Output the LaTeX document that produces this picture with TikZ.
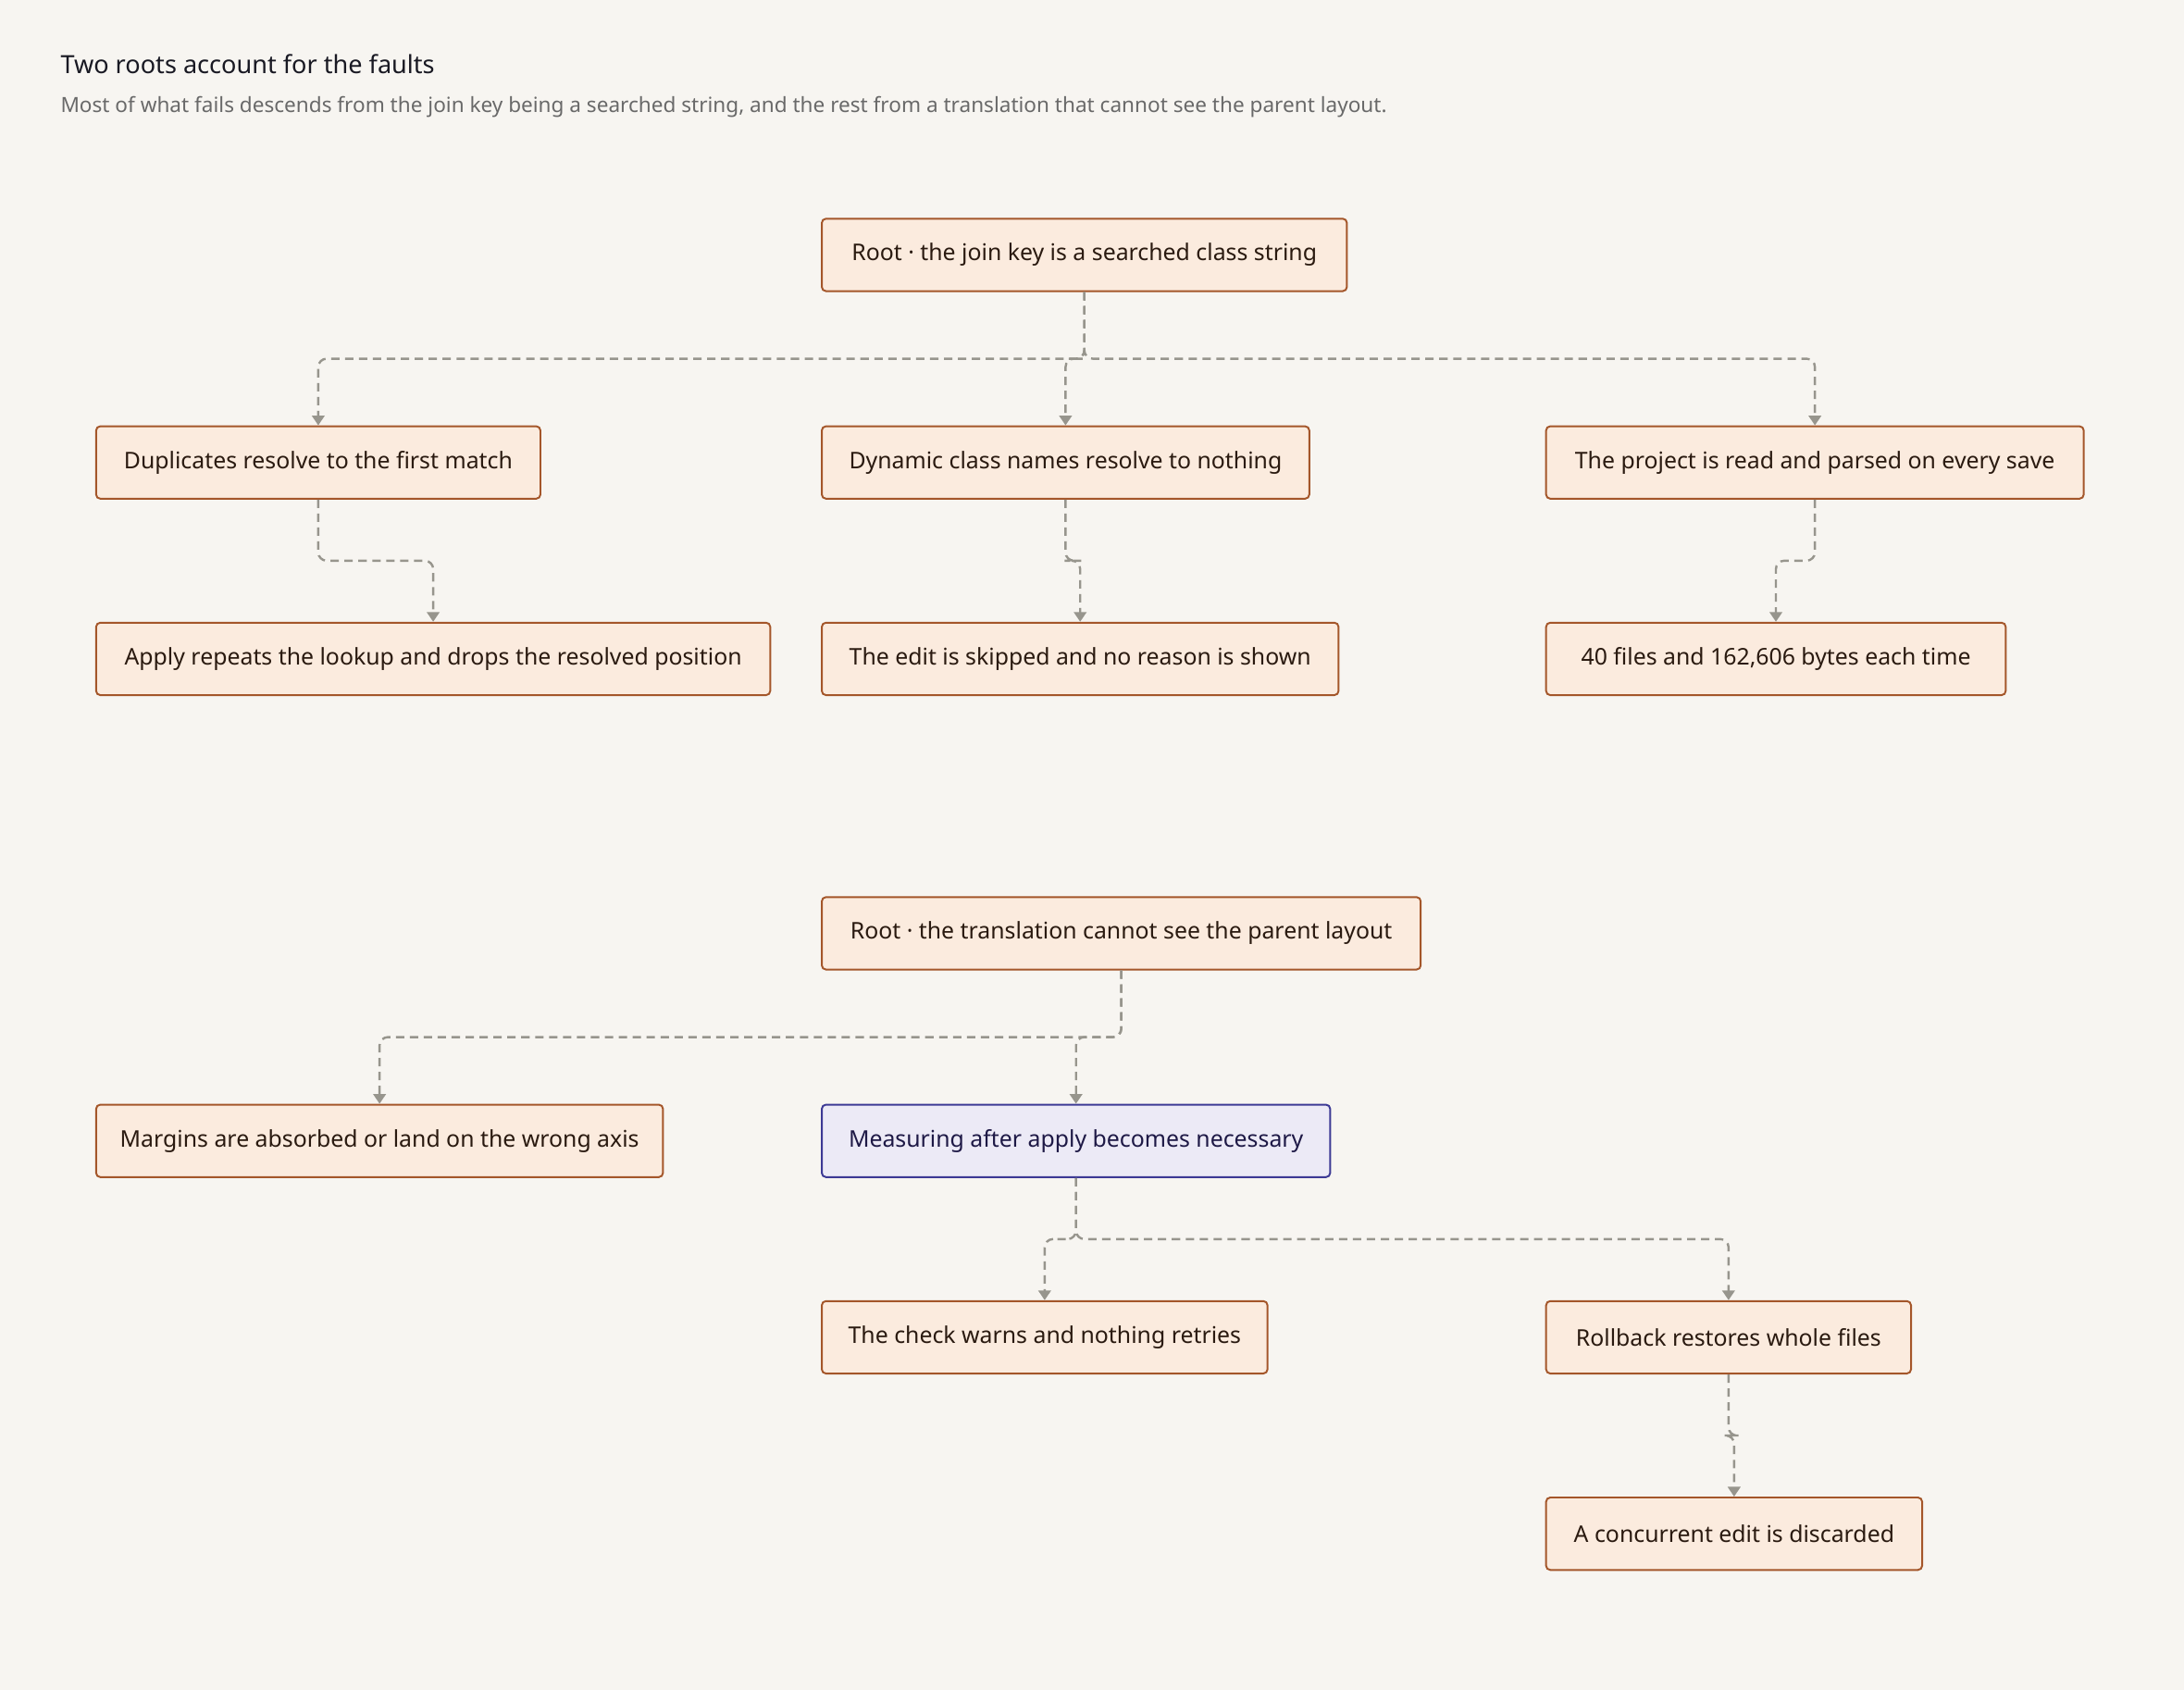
\documentclass[tikz,border=0pt]{standalone}
\usepackage{fontspec}
\setmainfont{Noto Sans}
\usetikzlibrary{arrows.meta,calc}
\definecolor{bg}{HTML}{F7F5F1}
\definecolor{boxfill}{HTML}{FBEBDE}
\definecolor{boxline}{HTML}{A4562A}
\definecolor{bluefill}{HTML}{ECEAF6}
\definecolor{blueline}{HTML}{3D3A95}
\definecolor{conncol}{HTML}{97958D}
\definecolor{txt}{HTML}{2A1A10}
\begin{document}
\begin{tikzpicture}[x=1pt,y=1pt,
  box/.style={draw=boxline,fill=boxfill,line width=1.3pt,rounded corners=3pt,minimum height=52pt,inner sep=0pt,font=\fontsize{16.5}{20}\selectfont,text=txt},
  bbox/.style={box,draw=blueline,fill=bluefill,text={rgb,255:red,30;green,25;blue,70}},
  conn/.style={draw=conncol,line width=1.6pt,dash pattern=on 6pt off 4pt,rounded corners=6pt,-{Triangle[width=9pt,length=7pt]}}]
\fill[bg] (0,0) rectangle (1568,-1213);
\useasboundingbox (0,0) rectangle (1568,-1213);
\node[anchor=base west,font=\fontsize{18}{22}\selectfont\bfseries,text={rgb,255:red,25;green,25;blue,35}] (title) at (40,-53) {Two roots account for the faults};
\node[anchor=base west,font=\fontsize{15}{18}\selectfont,text={rgb,255:red,105;green,105;blue,105}] (sub) at (40,-81) {Most of what fails descends from the join key being a searched string, and the rest from a translation that cannot see the parent layout.};
\newcommand\bx[6]{\node[#1,minimum width={#4-#3}] (#2) at ({(#3+#4)/2},{-(#5+26)}) {#6};}
\bx{box}{R1}{590}{967}{157}{Root · the join key is a searched class string}
\bx{box}{A}{69}{388}{306}{Duplicates resolve to the first match}
\bx{box}{B}{590}{940}{306}{Dynamic class names resolve to nothing}
\bx{box}{C}{1110}{1496}{306}{The project is read and parsed on every save}
\bx{box}{A2}{69}{553}{447}{Apply repeats the lookup and drops the resolved position}
\bx{box}{B2}{590}{961}{447}{The edit is skipped and no reason is shown}
\bx{box}{C2}{1110}{1440}{447}{40 files and 162,606 bytes each time}
\bx{box}{R2}{590}{1020}{644}{Root · the translation cannot see the parent layout}
\bx{box}{D}{69}{476}{793}{Margins are absorbed or land on the wrong axis}
\bx{bbox}{E}{590}{955}{793}{Measuring after apply becomes necessary}
\bx{box}{F}{590}{910}{934}{The check warns and nothing retries}
\bx{box}{G}{1110}{1372}{934}{Rollback restores whole files}
\bx{box}{H}{1110}{1380}{1075}{A concurrent edit is discarded}
\newcommand\cn[2]{\draw[conn] (#1.south) |- ($(#1.south)!0.5!(#2.north)$) -| (#2.north);}
\cn{R1}{A}\cn{R1}{B}\cn{R1}{C}
\cn{A}{A2}\cn{B}{B2}\cn{C}{C2}
\cn{R2}{D}\cn{R2}{E}
\cn{E}{F}\cn{E}{G}\cn{G}{H}
\end{tikzpicture}
\end{document}
